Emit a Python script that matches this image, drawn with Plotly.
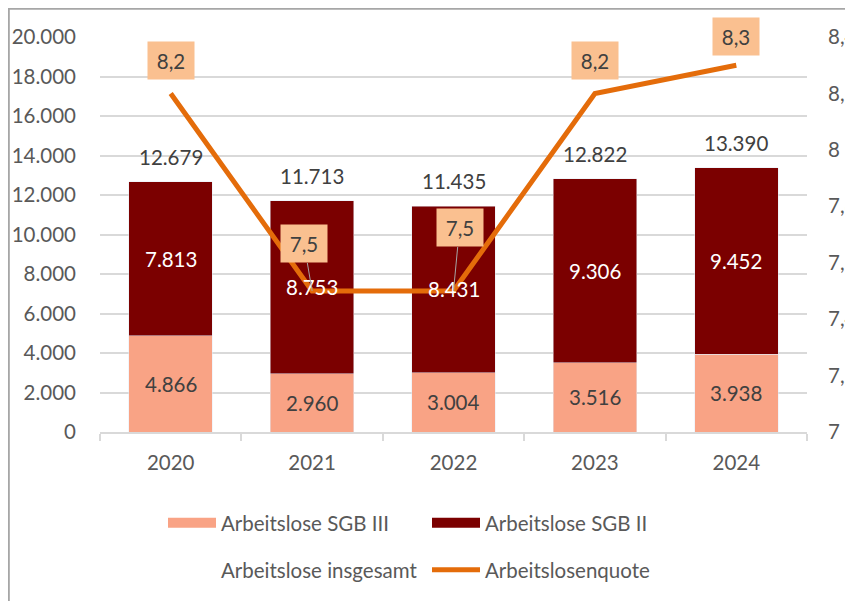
import plotly.graph_objects as go

# ---- data ----
years = ["2020", "2021", "2022", "2023", "2024"]
sgb3 = [4866, 2960, 3004, 3516, 3938]
sgb2 = [7813, 8753, 8431, 9306, 9452]
total = [12679, 11713, 11435, 12822, 13390]
quote = [8.2, 7.5, 7.5, 8.2, 8.3]

# label placement for the rate labels (pixel offsets), styling only
quote_label_pos = [(0, -33, False), (-8, -47, True), (6, -63, True), (0, -33, False), (0, -29, False)]

FONT = "Lato"
FS = 20.5
GRAY = "#595959"
DARK = "#404040"
C3 = "#F9A385"
C2 = "#7B0000"
CQ = "#E46C0A"

def de(v):
    return f"{v:,}".replace(",", ".")

fig = go.Figure()
fig.add_bar(x=years, y=sgb3, name="Arbeitslose SGB III", marker_color=C3,
            showlegend=False, hoverinfo="skip")
fig.add_bar(x=years, y=sgb2, name="Arbeitslose SGB II", marker_color=C2,
            showlegend=False, hoverinfo="skip")
# legend entries for the stacked bars (wide swatches like the original)
fig.add_scatter(x=[None], y=[None], name="Arbeitslose SGB III", mode="lines",
                line=dict(color=C3, width=14), legend="legend")
fig.add_scatter(x=[None], y=[None], name="Arbeitslose SGB II", mode="lines",
                line=dict(color=C2, width=14), legend="legend")
fig.add_scatter(x=years, y=total, name="Arbeitslose insgesamt", mode="lines",
                line=dict(color="rgba(0,0,0,0)", width=1), legend="legend2", hoverinfo="skip")
fig.add_scatter(x=years, y=quote, yaxis="y2", name="Arbeitslosenquote", mode="lines",
                line=dict(color=CQ, width=5), legend="legend2", hoverinfo="skip")

annotations = []
# segment labels (drawn on top of everything, as in the original)
for i, (a3, a2) in enumerate(zip(sgb3, sgb2)):
    annotations.append(dict(x=i, y=a3 / 2, xref="x", yref="y", text=de(a3), showarrow=False,
                            font=dict(size=FS, color=DARK, family=FONT)))
    annotations.append(dict(x=i, y=a3 + a2 / 2, xref="x", yref="y", text=de(a2), showarrow=False,
                            font=dict(size=FS, color="white", family=FONT)))
for i, t in enumerate(total):
    annotations.append(dict(x=i, y=t, xref="x", yref="y", text=de(t),
                            showarrow=False, yshift=25, font=dict(size=FS, color=DARK, family=FONT)))
for i, (q, (ax, ay, arrow)) in enumerate(zip(quote, quote_label_pos)):
    a = dict(x=i, y=q, xref="x", yref="y2", text=f"{q}".replace(".", ","),
             bgcolor="#FAC090", font=dict(size=FS, color=DARK, family=FONT),
             width=40, height=31, borderpad=3)
    if arrow:
        a.update(showarrow=True, ax=ax, ay=ay, arrowhead=0, arrowwidth=1,
                 arrowcolor="#A6A6A6", standoff=0, startstandoff=0)
    else:
        a.update(showarrow=False, yshift=-ay)
    annotations.append(a)

# page has an 8px body margin: figure coords = reference coords - 8
OFF = 8
W, H = 853 - OFF, 601 - OFF
L, T = 100 - OFF, 37 - OFF
R = W - (807 - OFF)
B = H - (432 - OFF)
pw, ph = W - L - R, H - T - B
def px(xp):
    return (xp - OFF - L) / pw
def py(yp):
    return (H - B - (yp - OFF)) / ph

fig.update_layout(
    width=W, height=H,
    margin=dict(l=L, r=R, t=T, b=B, autoexpand=False),
    separators=",.",
    barmode="stack", bargap=0.41,
    plot_bgcolor="white", paper_bgcolor="white",
    font=dict(family=FONT, size=FS, color=GRAY),
    hovermode=False,
    xaxis=dict(type="category", range=[-0.5, len(years) - 0.5], showline=True, linecolor="#D9D9D9",
               linewidth=1.5, ticks="outside", tickson="boundaries", ticklen=7, tickcolor="#D9D9D9",
               tickwidth=1.5, tickfont=dict(size=FS, color=GRAY), ticklabelstandoff=12, showgrid=False),
    yaxis=dict(range=[0, 20000], dtick=2000, tickformat=",d", gridcolor="#D9D9D9", gridwidth=1.5,
               showline=False, zeroline=False, tickfont=dict(size=FS, color=GRAY), ticklabelstandoff=23),
    yaxis2=dict(overlaying="y", side="right", range=[7, 8.4], tick0=7, dtick=0.2, showgrid=False,
                zeroline=False, showline=False, tickfont=dict(size=FS, color=GRAY), ticklabelstandoff=20),
    legend=dict(orientation="h", x=px(163), y=py(523), xanchor="left", yanchor="middle",
                entrywidth=201, itemwidth=48, font=dict(size=FS, color=GRAY), bgcolor="rgba(0,0,0,0)",
                traceorder="normal"),
    legend2=dict(orientation="h", x=px(163), y=py(570), xanchor="left", yanchor="middle",
                 entrywidth=201, itemwidth=48, font=dict(size=FS, color=GRAY), bgcolor="rgba(0,0,0,0)",
                 traceorder="normal"),
    annotations=annotations,
    shapes=[dict(type="rect", xref="paper", yref="paper", x0=px(OFF + 0.8), x1=px(900), y0=py(650),
                 y1=py(OFF + 0.8), line=dict(color="#A6A6A6", width=2), fillcolor="rgba(0,0,0,0)",
                 layer="below")],
)

fig.write_html("out.html")
